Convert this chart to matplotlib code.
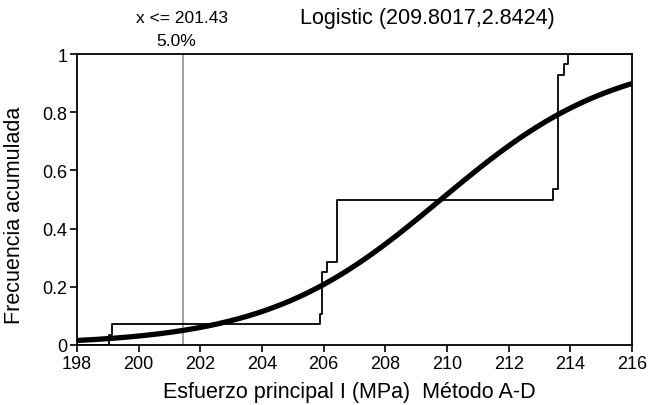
import numpy as np
import matplotlib
matplotlib.use("Agg")
import matplotlib.pyplot as plt

plt.rcParams["font.family"] = ["Liberation Sans", "DejaVu Sans"]

# Fitted logistic parameters (location, scale) and the 5% cut-off
LOC, SCALE = 209.8017, 2.8424
X_CUT = 201.43
P_CUT = 5.0

# Empirical cumulative frequency (step levels)
step_x = [198.0, 199.05, 199.15, 205.88, 205.95, 206.10, 206.43,
          213.45, 213.60, 213.80, 213.93, 216.0]
step_y = [0.0, 0.036, 0.071, 0.107, 0.250, 0.286, 0.500,
          0.536, 0.929, 0.964, 1.000, 1.000]

x_ticks = [198, 200, 202, 204, 206, 208, 210, 212, 214, 216]
y_ticks = [0, 0.2, 0.4, 0.6, 0.8, 1]
y_ticklabels = ["0", "0.2", "0.4", "0.6", "0.8", "1"]

xs = np.linspace(198, 216, 400)
cdf = 1.0 / (1.0 + np.exp(-(xs - LOC) / SCALE))

fig = plt.figure(figsize=(6.5, 4.06), dpi=100)
ax = fig.add_axes([0.1185, 0.1478, 0.8538, 0.7167])

ax.axvline(X_CUT, color="#9a9a9a", lw=1.3, zorder=1)
ax.step(step_x, step_y, where="post", color="black", lw=1.3, zorder=2)
ax.plot(xs, cdf, color="black", lw=3.8, solid_capstyle="round", zorder=3)

ax.set_xlim(198, 216)
ax.set_ylim(0, 1)
ax.set_xticks(x_ticks)
ax.set_yticks(y_ticks)
ax.set_yticklabels(y_ticklabels)
ax.tick_params(direction="out", length=5, width=1.2, labelsize=13, colors="black", pad=2)
for spine in ax.spines.values():
    spine.set_linewidth(1.3)
    spine.set_color("black")

ax.set_xlabel("Esfuerzo principal I (MPa)  Método A-D", fontsize=15.5)
ax.set_ylabel("Frecuencia acumulada", fontsize=15.5)
ax.xaxis.set_label_coords(0.49, -0.125)
ax.yaxis.set_label_coords(-0.094, 0.45)

fig.text(0.658, 0.955, f"Logistic ({LOC:.4f},{SCALE:.4f})", fontsize=15.5, ha="center", va="center")
fig.text(0.28, 0.955, f"x <= {X_CUT:.2f}", fontsize=12.5, ha="center", va="center")
fig.text(0.271, 0.897, f"{P_CUT:.1f}%", fontsize=12.5, ha="center", va="center")

fig.savefig("out.png", dpi=100)
